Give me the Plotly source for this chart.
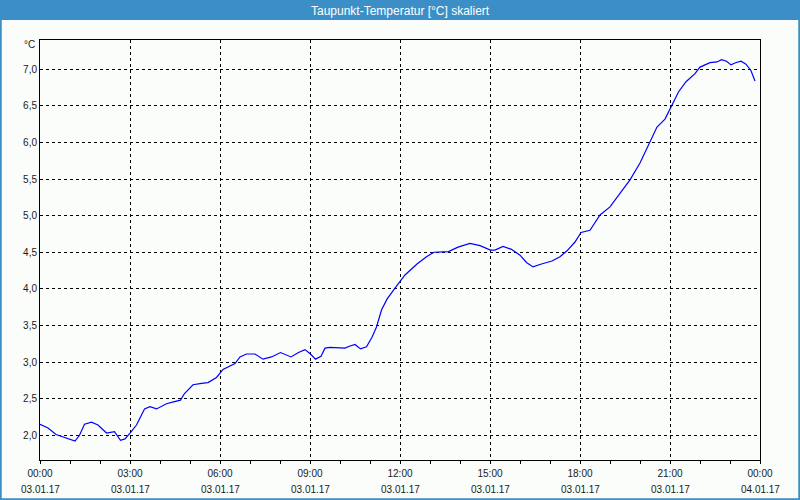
import plotly.graph_objects as go

# ---- data ----
times = ["00:00","00:16","00:32","00:46","00:59","01:10","01:19","01:29","01:43","01:56",
         "02:13","02:29","02:41","02:50","03:00","03:13","03:29","03:40","03:53","04:13",
         "04:29","04:41","04:49","05:06","05:23","05:36","05:53","06:06","06:30","06:40",
         "06:53","07:10","07:26","07:43","08:01","08:22","08:37","08:50","09:01","09:11",
         "09:22","09:30","09:40","09:56","10:10","10:20","10:30","10:41","10:53","11:04",
         "11:13","11:23","11:34","11:50","12:10","12:34","12:53","13:08","13:37","13:56",
         "14:20","14:40","15:01","15:10","15:26","15:43","16:00","16:13","16:26","16:43",
         "17:04","17:20","17:34","17:50","18:02","18:20","18:40","19:00","19:20","19:40",
         "20:00","20:17","20:34","20:50","21:01","21:17","21:32","21:50","22:00","22:20",
         "22:34","22:43","22:53","23:02","23:11","23:22","23:32","23:42","23:50"]
values = [2.15,2.10,2.01,1.98,1.95,1.92,2.00,2.15,2.18,2.14,
          2.03,2.05,1.93,1.95,2.03,2.14,2.36,2.39,2.36,2.43,
          2.46,2.48,2.57,2.69,2.71,2.72,2.79,2.90,2.98,3.07,
          3.11,3.11,3.04,3.07,3.13,3.07,3.13,3.17,3.11,3.04,
          3.08,3.19,3.20,3.19,3.19,3.22,3.24,3.18,3.21,3.34,
          3.48,3.71,3.86,4.01,4.19,4.34,4.44,4.50,4.51,4.57,
          4.62,4.59,4.53,4.53,4.58,4.54,4.46,4.36,4.30,4.34,
          4.38,4.44,4.52,4.64,4.77,4.80,5.01,5.12,5.30,5.49,
          5.72,5.97,6.21,6.32,6.48,6.69,6.83,6.94,7.03,7.09,
          7.10,7.13,7.11,7.06,7.09,7.11,7.07,6.98,6.84]
day = "2017-01-03"
tick_vals = ["2017-01-03 00:00","2017-01-03 03:00","2017-01-03 06:00","2017-01-03 09:00",
             "2017-01-03 12:00","2017-01-03 15:00","2017-01-03 18:00","2017-01-03 21:00",
             "2017-01-04 00:00"]
tick_times = ["00:00","03:00","06:00","09:00","12:00","15:00","18:00","21:00","00:00"]
tick_dates = ["03.01.17"]*8 + ["04.01.17"]
y_ticks = [2.0,2.5,3.0,3.5,4.0,4.5,5.0,5.5,6.0,6.5,7.0]
title = "Taupunkt-Temperatur [°C] skaliert"
unit = "°C"

x = [f"{day} {t}" for t in times]
x_range = ["2017-01-03 00:00", "2017-01-04 00:00"]

W, H = 800, 500
L, R, T, B = 40, 40, 40, 40
pw, ph = W - L - R, H - T - B
def px(xp):  # pixel -> paper x
    return (xp - L) / pw
def py(yp):  # pixel -> paper y
    return (H - B - yp) / ph

fig = go.Figure()
fig.add_trace(go.Scatter(x=x, y=values, mode="lines",
                         line=dict(color="#0000ff", width=1.2), hoverinfo="skip"))

font = "Liberation Sans"
tcol = "#1a1a1a"
fig.update_layout(
    width=W, height=H, margin=dict(l=L, r=R, t=T, b=B),
    paper_bgcolor="#fbfdfb", plot_bgcolor="#fbfdfb",
    showlegend=False, separators=",.",
    font=dict(family=font, size=10, color=tcol),
    xaxis=dict(type="date", range=x_range,
               tickvals=tick_vals, ticktext=tick_times,
               showline=True, linecolor="black", linewidth=1, mirror=True,
               ticks="outside", ticklen=3, tickcolor="black",
               minor=dict(dtick=3600000, ticks="outside", ticklen=3, tickcolor="black", showgrid=False),
               showgrid=True, gridcolor="black", gridwidth=1, griddash="3px,3px",
               zeroline=False, ticklabelstandoff=1,
               tickfont=dict(family=font, size=10, color=tcol)),
    yaxis=dict(range=[1.662, 7.4], tickvals=y_ticks, tickformat=".1f",
               showline=True, linecolor="black", linewidth=1, mirror=True,
               ticks="", showgrid=True, gridcolor="black", gridwidth=1, griddash="3px,3px",
               zeroline=False, tickfont=dict(family=font, size=10, color=tcol)),
)

# date line under the time tick labels, placed through the x axis scale
for tv, d in zip(tick_vals, tick_dates):
    fig.add_annotation(xref="x", yref="paper", x=tv, y=py(489), text=d,
                       showarrow=False, xanchor="center", yanchor="middle",
                       font=dict(family=font, size=10, color=tcol))

# title bar
fig.add_shape(type="rect", xref="paper", yref="paper",
              x0=px(-2), x1=px(W + 2), y0=py(20), y1=py(-2),
              fillcolor="#3c8fc6", line=dict(width=0), layer="above")
# outer blue frame
fig.add_shape(type="rect", xref="paper", yref="paper",
              x0=px(0), x1=px(W), y0=py(H), y1=py(0),
              fillcolor="rgba(0,0,0,0)", line=dict(color="#3c8fc6", width=3.5), layer="above")
fig.add_annotation(xref="paper", yref="paper", x=px(W / 2), y=py(10.5),
                   text=title, showarrow=False, xanchor="center", yanchor="middle",
                   font=dict(family=font, size=12, color="white"))
fig.add_annotation(xref="paper", yref="paper", x=px(37), y=py(45),
                   text=unit, showarrow=False, xanchor="right", yanchor="middle",
                   font=dict(family=font, size=10, color=tcol))

fig.write_html("out.html", config={"displayModeBar": False},
               post_script="document.body.style.margin='0';")
